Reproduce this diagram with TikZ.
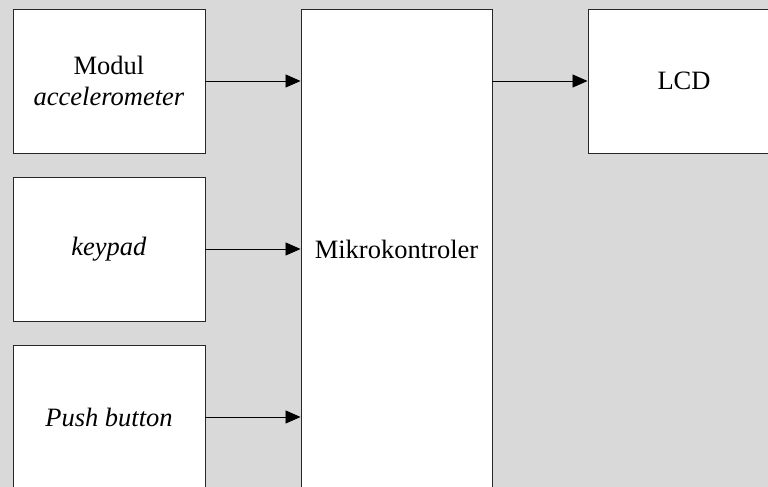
\documentclass[tikz,border=0pt]{standalone}
\usepackage{fontspec}
\setmainfont{Liberation Serif}
\usetikzlibrary{arrows.meta}
\definecolor{pagegrey}{RGB}{217,217,217}
\definecolor{edgegrey}{RGB}{40,40,40}
\begin{document}
\begin{tikzpicture}[x=1pt,y=-1pt,
  block/.style={draw=edgegrey, line width=0.9pt, fill=white, rectangle,
    inner sep=0pt, align=center, font=\fontsize{26.5}{31}\selectfont},
  link/.style={draw=black, line width=0.8pt, -{Triangle[length=15pt,width=13pt]}}]
  % canvas
  \useasboundingbox (0,0) rectangle (768,487);
  \fill[pagegrey] (0,0) rectangle (768,487);
  \clip (0,0) rectangle (768,487);
  % blocks
  \node[block, minimum width=192pt, minimum height=144pt] (acc) at (109,81)
    {Modul\\\textit{accelerometer}};
  \node[block, minimum width=192pt, minimum height=144pt] (key) at (109,249)
    {\textit{keypad}};
  \node[block, minimum width=192pt, minimum height=144pt] (push) at (109,417)
    {\textit{Push button}};
  \node[block, minimum width=191pt, minimum height=480pt] (mcu) at (396.5,249)
    {Mikrokontroler};
  \node[block, minimum width=192pt, minimum height=144pt] (lcd) at (684,81)
    {LCD};
  % connections
  \draw[link] (acc.east) -- (acc.east -| mcu.west);
  \draw[link] (key.east) -- (key.east -| mcu.west);
  \draw[link] (push.east) -- (push.east -| mcu.west);
  \draw[link] (mcu.east |- lcd.west) -- (lcd.west);
\end{tikzpicture}
\end{document}
